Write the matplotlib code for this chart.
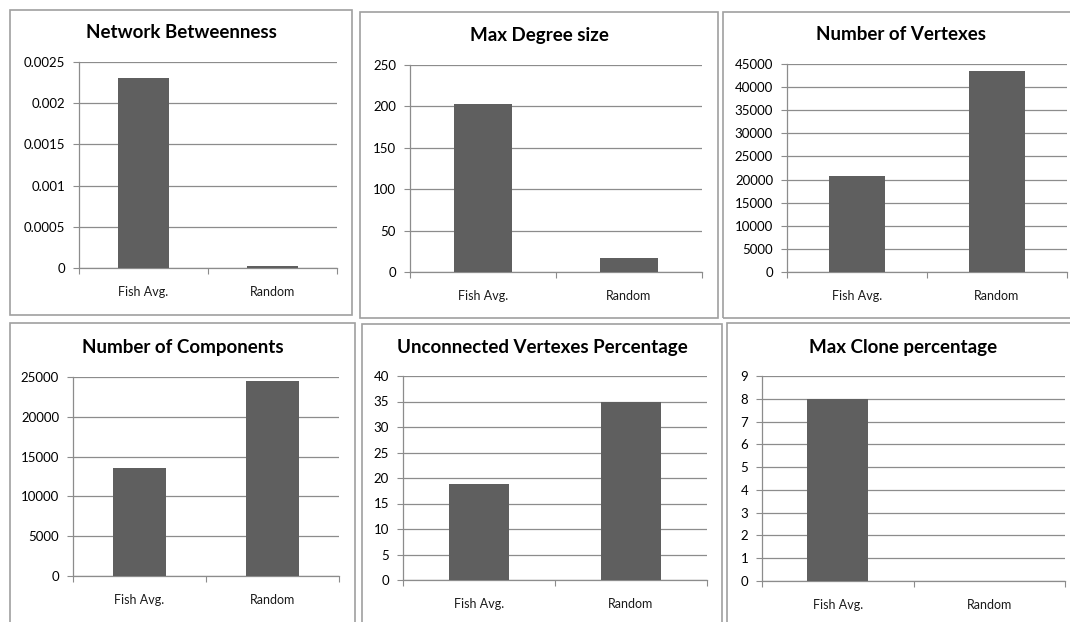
import matplotlib
matplotlib.use("Agg")
import matplotlib.pyplot as plt
from matplotlib.patches import Rectangle
import numpy as np

plt.rcParams['font.family'] = ['Lato', 'DejaVu Sans']

categories = ["Fish Avg.", "Random"]
titles = ["Network Betweenness", "Max Degree size", "Number of Vertexes",
          "Number of Components", "Unconnected Vertexes Percentage", "Max Clone percentage"]
betweenness = [0.0023, 0.00002]
max_degree = [203, 17]
vertexes = [20800, 43500]
components = [13600, 24500]
unconnected_pct = [18.8, 35]
max_clone_pct = [8, 0]
yticks_list = [
    [0, 0.0005, 0.001, 0.0015, 0.002, 0.0025],
    [0, 50, 100, 150, 200, 250],
    list(range(0, 45001, 5000)),
    list(range(0, 25001, 5000)),
    list(range(0, 41, 5)),
    list(range(0, 10)),
]
ytick_labels = [
    ["0", "0.0005", "0.001", "0.0015", "0.002", "0.0025"],
    None, None, None, None, None,
]
values_list = [betweenness, max_degree, vertexes, components, unconnected_pct, max_clone_pct]

W, H = 1070, 622
fig = plt.figure(figsize=(W / 100, H / 100), dpi=100)
fig.patch.set_facecolor("white")

def fx(x):
    return x / W

def fy(y):
    return 1 - y / H

# (left, top, right, bottom) of axes in pixels
axes_px = [
    (79, 62, 337, 268),
    (410, 65, 702, 272),
    (787, 64, 1067, 272),
    (73, 377, 339, 576),
    (403, 376, 707, 580),
    (762, 376, 1065, 581),
]
# border boxes (left, top, right, bottom)
boxes_px = [
    (10, 10, 352, 315),
    (360, 12, 718, 318),
    (723, 12, 1080, 318),
    (10, 323, 355, 630),
    (362, 324, 722, 630),
    (727, 323, 1080, 630),
]
title_y = [33, 36, 34, 347, 347, 347]

grid_c = "#8c8c8c"
bar_c = "#5f5f5f"

for i in range(6):
    bl, bt, br, bb = boxes_px[i]
    fig.add_artist(Rectangle((fx(bl), fy(bb)), fx(br - bl), (bb - bt) / H,
                             transform=fig.transFigure, fill=False,
                             edgecolor="#a0a0a0", linewidth=1.2))
    l, t, r, b = axes_px[i]
    ax = fig.add_axes([fx(l), fy(b), fx(r - l), (b - t) / H])
    vals = values_list[i]
    ax.bar([0.5, 1.5], vals, width=0.4, color=bar_c, zorder=3)
    ax.set_xlim(0, 2)
    yt = yticks_list[i]
    ax.set_ylim(0, yt[-1])
    ax.set_yticks(yt)
    if ytick_labels[i] is not None:
        ax.set_yticklabels(ytick_labels[i])
    ax.yaxis.grid(True, color=grid_c, linewidth=0.9, zorder=0)
    ax.set_xticks([0, 1, 2])
    ax.set_xticklabels([])
    ax.set_xticks([0.5, 1.5], minor=True)
    ax.set_xticklabels(categories, minor=True)
    ax.tick_params(axis='x', which='minor', length=0, pad=13, labelsize=9, labelcolor="#1a1a1a")
    ax.tick_params(axis='x', which='major', length=4, color=grid_c, direction='out')
    ax.tick_params(axis='y', length=4, color=grid_c, labelsize=9.5, labelcolor="#000000", pad=6)
    for s in ["top", "right"]:
        ax.spines[s].set_visible(False)
    for s in ["left", "bottom"]:
        ax.spines[s].set_color(grid_c)
        ax.spines[s].set_linewidth(0.9)
    ax.set_facecolor("none")
    cx = (bl + min(br, W + 10)) / 2
    fig.text(fx(cx), fy(title_y[i]), titles[i], ha="center", va="center",
             fontsize=13.5, fontweight="bold", color="#000000")

fig.savefig("out.png", dpi=100, facecolor="white")
